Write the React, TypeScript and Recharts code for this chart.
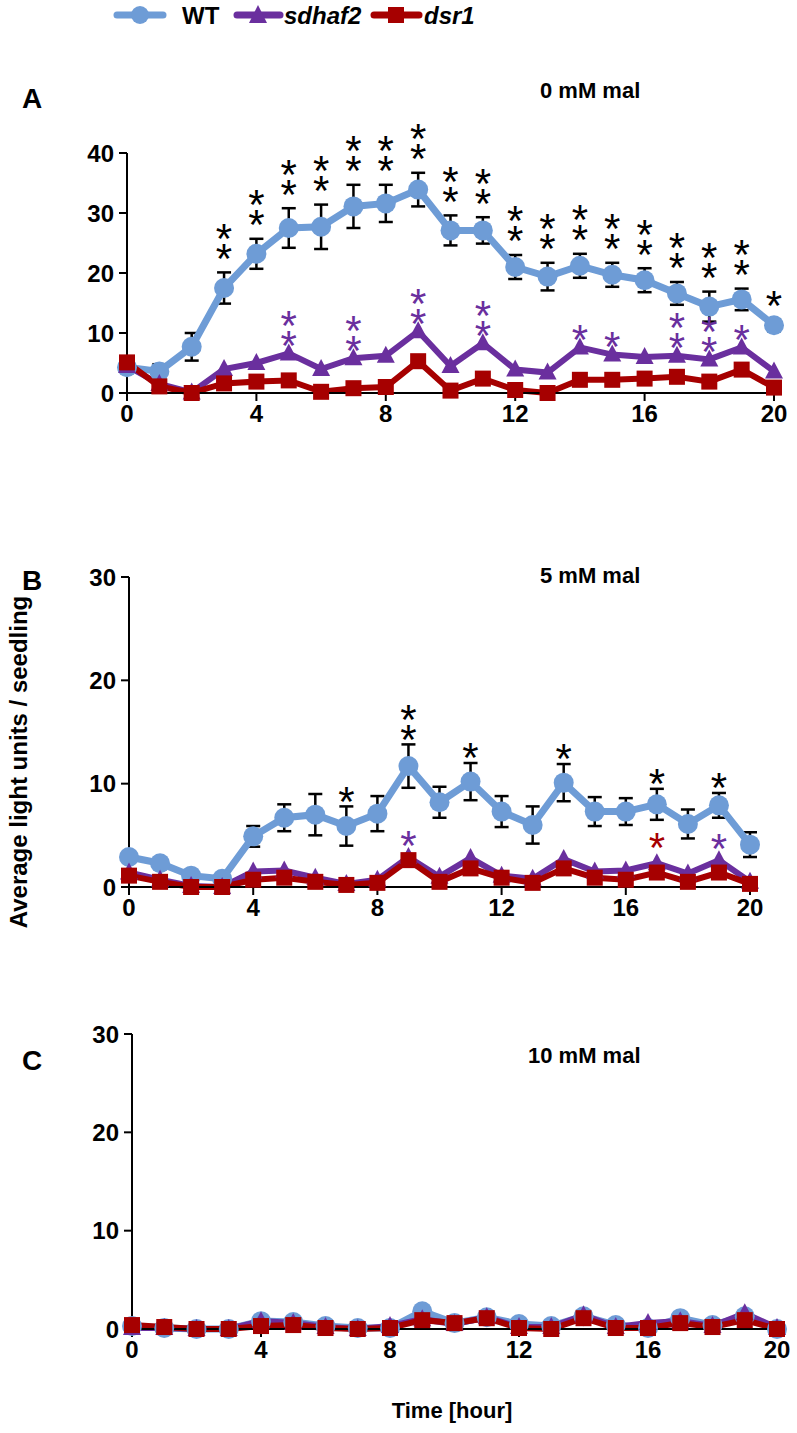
import React from 'react'
import { LineChart, Line, XAxis, YAxis, ErrorBar, LabelList } from 'recharts'

const HOURS = [0, 1, 2, 3, 4, 5, 6, 7, 8, 9, 10, 11, 12, 13, 14, 15, 16, 17, 18, 19, 20]
const X_TICKS = [0, 4, 8, 12, 16, 20]

// panel A: 0 mM mal
const WT_A = [4.3, 3.6, 7.7, 17.5, 23.2, 27.5, 27.7, 31.1, 31.6, 33.9, 27.1, 27.1, 21.0, 19.4, 21.2, 19.7, 18.8, 16.6, 14.4, 15.6, 11.3]
const WT_A_ERR = [0.5, 1.2, 2.3, 2.6, 2.5, 3.3, 3.7, 3.6, 3.1, 2.8, 2.5, 2.2, 2.0, 2.3, 2.0, 2.0, 2.0, 1.9, 2.5, 1.8, 1.0]
const SD_A = [4.5, 1.5, 0.1, 4.0, 5.0, 6.6, 4.0, 5.8, 6.2, 10.3, 4.5, 8.3, 3.9, 3.4, 7.6, 6.4, 6.0, 6.2, 5.6, 7.6, 3.6]
const DSR_A = [5.1, 1.1, 0.0, 1.6, 1.9, 2.1, 0.2, 0.8, 1.0, 5.3, 0.4, 2.4, 0.5, 0.0, 2.2, 2.2, 2.4, 2.7, 1.9, 3.9, 0.9]
const WT_A_STARS = [0, 0, 0, 2, 2, 2, 2, 2, 2, 2, 2, 2, 2, 2, 2, 2, 2, 2, 2, 2, 1]
const SD_A_STARS = [0, 0, 0, 0, 0, 2, 0, 2, 0, 2, 0, 2, 0, 0, 1, 1, 0, 2, 2, 1, 0]

// panel B: 5 mM mal
const WT_B = [2.9, 2.3, 1.1, 0.8, 4.9, 6.7, 7.0, 5.9, 7.1, 11.7, 8.2, 10.2, 7.3, 6.0, 10.1, 7.3, 7.3, 8.0, 6.1, 7.9, 4.1]
const WT_B_ERR = [0.3, 0.3, 0.2, 0.3, 1.0, 1.3, 2.0, 1.9, 1.7, 2.1, 1.5, 1.8, 1.5, 1.8, 1.8, 1.4, 1.3, 1.5, 1.4, 1.2, 1.2]
const SD_B = [1.4, 0.7, 0.1, 0.0, 1.5, 1.6, 0.9, 0.3, 0.7, 2.9, 1.0, 2.8, 1.1, 0.8, 2.7, 1.5, 1.6, 2.3, 1.3, 2.6, 0.5]
const DSR_B = [1.1, 0.5, 0.0, 0.0, 0.7, 0.9, 0.5, 0.2, 0.4, 2.6, 0.5, 1.8, 0.9, 0.4, 1.8, 0.9, 0.7, 1.4, 0.5, 1.4, 0.3]
const WT_B_STARS = [0, 0, 0, 0, 0, 0, 0, 1, 0, 2, 0, 1, 0, 0, 1, 0, 0, 1, 0, 1, 0]
const SD_B_STARS = [0, 0, 0, 0, 0, 0, 0, 0, 0, 1, 0, 0, 0, 0, 0, 0, 0, 0, 0, 1, 0]
const DSR_B_STARS = [0, 0, 0, 0, 0, 0, 0, 0, 0, 0, 0, 0, 0, 0, 0, 0, 0, 1, 0, 0, 0]

// panel C: 10 mM mal
const WT_C = [0.3, 0.1, 0.0, 0.0, 0.8, 0.7, 0.3, 0.1, 0.1, 1.8, 0.6, 1.2, 0.5, 0.3, 1.3, 0.4, 0.1, 1.1, 0.4, 1.3, 0.0]
const SD_C = [0.1, 0.1, 0.0, 0.0, 0.8, 0.6, 0.2, 0.0, 0.3, 1.0, 0.5, 1.2, 0.2, 0.2, 1.4, 0.2, 0.6, 0.8, 0.3, 1.6, 0.1]
const DSR_C = [0.4, 0.2, 0.0, 0.0, 0.3, 0.4, 0.1, 0.0, 0.1, 0.9, 0.6, 1.1, 0.1, 0.0, 1.1, 0.1, 0.1, 0.6, 0.2, 0.9, 0.0]

const C_WT = '#6E9CD6'
const C_SD = '#6A2F9E'
const C_DSR = '#A60000'
const FONT = '"Liberation Sans", Arial, sans-serif'
const STAR_FS = 42
const STAR_STEP = 20

const circleDot = (p: any) => (
  <circle key={`c${p.index}`} cx={p.cx} cy={p.cy} r={10} fill={C_WT} />
)
const triDot = (p: any) => (
  <polygon
    key={`t${p.index}`}
    points={`${p.cx},${p.cy - 10} ${p.cx - 9},${p.cy + 7} ${p.cx + 9},${p.cy + 7}`}
    fill={C_SD}
  />
)
const squareDot = (p: any) => (
  <rect key={`s${p.index}`} x={p.cx - 8} y={p.cy - 8} width={16} height={16} fill={C_DSR} />
)

// stacked significance asterisks, one text element per point
const starLabel = (color: string, gap: number) => (props: any) => {
  const n = Number(props.value) || 0
  if (!n) return null
  const x = props.x ?? props.viewBox?.x
  const y = props.y ?? props.viewBox?.y
  return (
    <text textAnchor="middle" fontFamily={FONT} fontSize={STAR_FS} fill={color}>
      {Array.from({ length: n }, (_, k) => (
        <tspan key={k} x={x} y={y - gap - (n - 1 - k) * STAR_STEP + 0.58 * STAR_FS}>
          *
        </tspan>
      ))}
    </text>
  )
}

const tickStyle = { fontSize: 24, fontWeight: 700, fill: '#000', fontFamily: FONT }

function Panel({
  top, height, margin, yWidth, xHeight, yMax, yTicks,
  wt, sd, dsr, wtErr, wtStars, sdStars, dsrStars, wtGap, sdGap, dsrGap,
}: {
  top: number; height: number
  margin: { top: number; right: number; bottom: number; left: number }
  yWidth: number; xHeight: number; yMax: number; yTicks: number[]
  wt: number[]; sd: number[]; dsr: number[]
  wtErr?: number[]; wtStars?: number[]; sdStars?: number[]; dsrStars?: number[]
  wtGap?: number; sdGap?: number; dsrGap?: number
}) {
  const data = HOURS.map((h, i) => ({
    hour: h,
    wt: wt[i],
    sd: sd[i],
    dsr: dsr[i],
    wtErr: wtErr ? wtErr[i] : 0,
    wtTop: wt[i] + (wtErr ? wtErr[i] : 0),
    wtStars: wtStars ? wtStars[i] : 0,
    sdStars: sdStars ? sdStars[i] : 0,
    dsrStars: dsrStars ? dsrStars[i] : 0,
  }))
  return (
    <div style={{ position: 'absolute', left: 0, top }}>
      <LineChart width={797} height={height} data={data} margin={margin}>
        <XAxis
          dataKey="hour"
          type="number"
          domain={[0, 20]}
          ticks={X_TICKS}
          height={xHeight}
          tick={tickStyle}
          tickSize={8}
          tickMargin={4}
          axisLine={{ stroke: '#000', strokeWidth: 2 }}
          tickLine={{ stroke: '#000', strokeWidth: 2 }}
        />
        <YAxis
          type="number"
          domain={[0, yMax]}
          ticks={yTicks}
          width={yWidth}
          tick={tickStyle}
          tickSize={8}
          tickMargin={5}
          axisLine={{ stroke: '#000', strokeWidth: 2 }}
          tickLine={{ stroke: '#000', strokeWidth: 2 }}
        />
        <Line
          dataKey="wt"
          type="linear"
          stroke={C_WT}
          strokeWidth={7}
          dot={circleDot}
          activeDot={false}
          isAnimationActive={false}
        >
          {wtErr && (
            <ErrorBar dataKey="wtErr" direction="y" width={7} stroke="#000" strokeWidth={2.5} isAnimationActive={false} />
          )}
        </Line>
        <Line
          dataKey="sd"
          type="linear"
          stroke={C_SD}
          strokeWidth={6}
          dot={triDot}
          activeDot={false}
          isAnimationActive={false}
        >
          {sdStars && <LabelList dataKey="sdStars" content={starLabel(C_SD, sdGap ?? 18)} />}
        </Line>
        <Line
          dataKey="dsr"
          type="linear"
          stroke={C_DSR}
          strokeWidth={6}
          dot={squareDot}
          activeDot={false}
          isAnimationActive={false}
        >
          {dsrStars && <LabelList dataKey="dsrStars" content={starLabel(C_DSR, dsrGap ?? 35)} />}
        </Line>
        {wtStars && (
          <Line
            dataKey="wtTop"
            stroke="none"
            dot={false}
            activeDot={false}
            isAnimationActive={false}
          >
            <LabelList dataKey="wtStars" content={starLabel('#000', wtGap ?? 22)} />
          </Line>
        )}
      </LineChart>
    </div>
  )
}

export default function App() {
  return (
    <div style={{ position: 'absolute', left: 0, top: 0, width: 797, height: 1433, background: '#fff' }}>
      <Panel
        top={40} height={400}
        margin={{ top: 113, right: 23, bottom: 7, left: 0 }}
        yWidth={127} xHeight={40} yMax={40} yTicks={[0, 10, 20, 30, 40]}
        wt={WT_A} sd={SD_A} dsr={DSR_A} wtErr={WT_A_ERR}
        wtStars={WT_A_STARS} sdStars={SD_A_STARS} wtGap={24} sdGap={18}
      />
      <Panel
        top={520} height={400}
        margin={{ top: 57, right: 47, bottom: 3, left: 0 }}
        yWidth={129} xHeight={30} yMax={30} yTicks={[0, 10, 20, 30]}
        wt={WT_B} sd={SD_B} dsr={DSR_B} wtErr={WT_B_ERR}
        wtStars={WT_B_STARS} sdStars={SD_B_STARS} dsrStars={DSR_B_STARS}
        wtGap={15} sdGap={21} dsrGap={35}
      />
      <Panel
        top={1000} height={380}
        margin={{ top: 34, right: 20, bottom: 11, left: 0 }}
        yWidth={132} xHeight={40} yMax={30} yTicks={[0, 10, 20, 30]}
        wt={WT_C} sd={SD_C} dsr={DSR_C}
      />
      <svg
        width={797}
        height={1433}
        style={{ position: 'absolute', left: 0, top: 0, pointerEvents: 'none' }}
        fontFamily={FONT}
        fontWeight={700}
      >
        {/* legend */}
        <line x1={117} y1={15} x2={163} y2={15} stroke={C_WT} strokeWidth={7} strokeLinecap="round" />
        <circle cx={140} cy={15} r={9} fill={C_WT} />
        <text x={182} y={24} fontSize={24}>WT</text>
        <line x1={237} y1={15} x2={280} y2={15} stroke={C_SD} strokeWidth={7} strokeLinecap="round" />
        <polygon points="258,5 249,23 267,23" fill={C_SD} />
        <text x={284} y={24} fontSize={24} fontStyle="italic">sdhaf2</text>
        <line x1={374} y1={15} x2={419} y2={15} stroke={C_DSR} strokeWidth={7} strokeLinecap="round" />
        <rect x={388} y={7} width={16} height={16} fill={C_DSR} />
        <text x={424} y={24} fontSize={24} fontStyle="italic">dsr1</text>

        {/* panel letters and titles */}
        <text x={22} y={108} fontSize={28}>A</text>
        <text x={22} y={590} fontSize={28}>B</text>
        <text x={22} y={1070} fontSize={28}>C</text>
        <text x={540} y={98} fontSize={22}>0 mM mal</text>
        <text x={540} y={583} fontSize={22}>5 mM mal</text>
        <text x={528} y={1063} fontSize={22}>10 mM mal</text>

        {/* axis titles */}
        <text x={27} y={762} fontSize={24} textAnchor="middle" transform="rotate(-90 27 762)">
          Average light units / seedling
        </text>
        <text x={452} y={1418} fontSize={22} textAnchor="middle">Time [hour]</text>
      </svg>
    </div>
  )
}
